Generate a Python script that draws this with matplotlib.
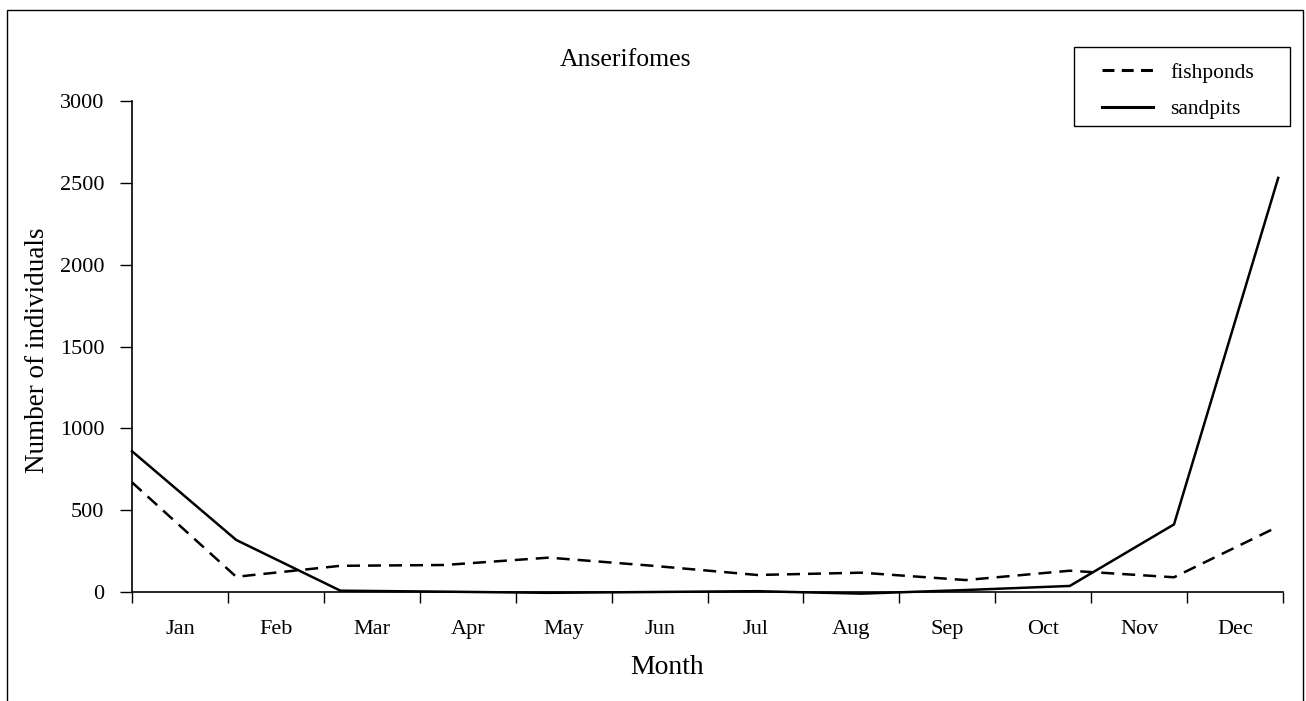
import numpy as np
from matplotlib import pyplot as plt
from matplotlib.patches import Rectangle

months = ["Jan", "Feb", "Mar", "Apr", "May", "Jun",
          "Jul", "Aug", "Sep", "Oct", "Nov", "Dec"]
fishponds = [670, 93, 160, 165, 210, 160, 104, 118, 73, 130, 90, 400]
sandpits = [860, 318, 8, 2, -5, 0, 5, -10, 12, 37, 413, 2530]
y_ticks = [0, 500, 1000, 1500, 2000, 2500, 3000]

plt.rcParams['font.family'] = ['Liberation Serif', 'DejaVu Serif']

W, H = 1306, 701
fig = plt.figure(figsize=(W / 100, H / 100), dpi=100)
ax = fig.add_axes([132 / W, (H - 592) / H, (1283 - 132) / W, (592 - 101) / H])

# points spread over the whole axis width, ticks mark category boundaries
x = np.arange(len(months)) * 11.95 / 11

ax.plot(x, fishponds, color="black", lw=1.8, ls=(0, (5.2, 3.2)),
        label="fishponds", clip_on=False)
ax.plot(x, sandpits, color="black", lw=1.8, label="sandpits", clip_on=False)

ax.set_xlim(0, 12)
ax.set_ylim(0, 3000)
ax.set_yticks(y_ticks)
ax.set_xticks(np.arange(13))
ax.set_xticklabels([])
ax.set_xticks(np.arange(12) + 0.5, minor=True)
ax.set_xticklabels(months, minor=True)
ax.tick_params(axis="x", which="minor", length=0, pad=20, labelsize=16)
ax.tick_params(axis="x", which="major", direction="out", length=8, width=1)
ax.tick_params(axis="y", direction="out", length=9, width=1, labelsize=16, pad=11)

for s in ["top", "right"]:
    ax.spines[s].set_visible(False)
for s in ["left", "bottom"]:
    ax.spines[s].set_linewidth(1.2)

fig.text(625 / W, 1 - 60 / H, "Anserifomes", ha="center", va="center", fontsize=18.5)
fig.text(667 / W, 1 - 668 / H, "Month", ha="center", va="center", fontsize=20)
fig.text(38 / W, 1 - 350 / H, "Number of individuals", ha="center", va="center",
         rotation=90, fontsize=19.5)

# legend content without frame, frame drawn separately
leg = ax.legend(loc="center", bbox_to_anchor=(1178 / W, 1 - 91 / H),
                bbox_transform=fig.transFigure, frameon=False,
                fontsize=15.5, handlelength=2.4, borderpad=0, labelspacing=0.78,
                handletextpad=0.8)
lines = leg.get_lines()
for h in lines:
    h.set_linewidth(2.2)
lines[0].set_linestyle((0, (3.9, 2.4)))
fig.patches.append(Rectangle((1074 / W, 1 - 126 / H), (1290 - 1074) / W, 79 / H,
                             transform=fig.transFigure, fill=False,
                             edgecolor="black", lw=1.0))

fig.patches.append(Rectangle((7 / W, -0.05), (1303 - 7) / W, 1.05 - 10 / H,
                             transform=fig.transFigure, fill=False,
                             edgecolor="black", lw=1.0))

fig.savefig("out.png", dpi=100)
